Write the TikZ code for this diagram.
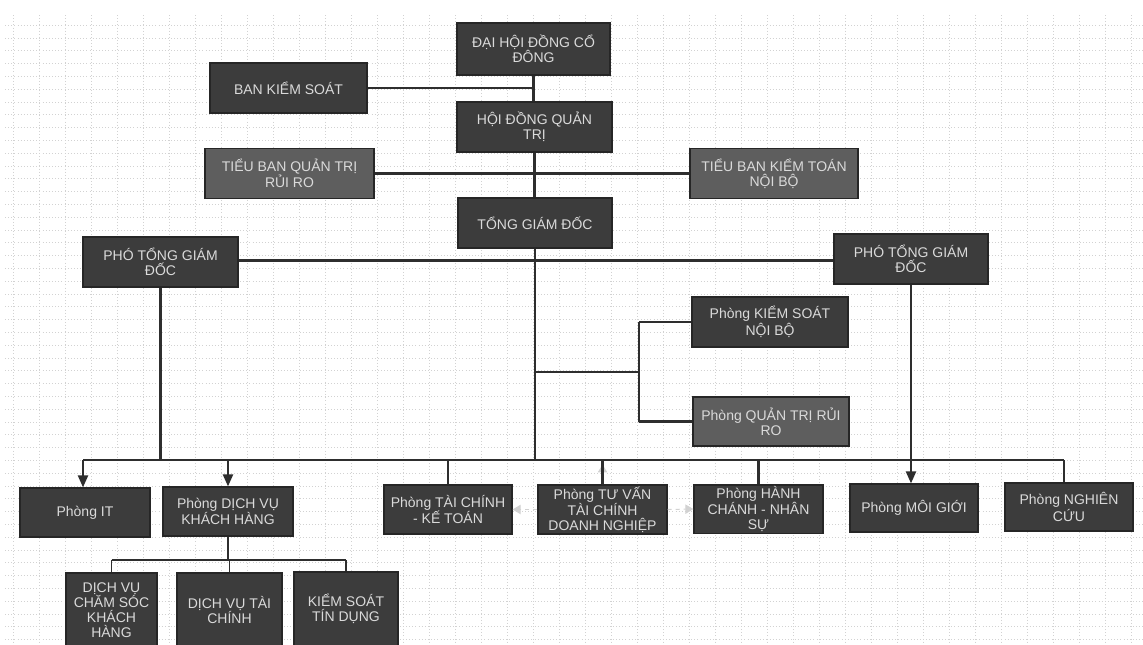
\documentclass[tikz,border=0pt]{standalone}
\usepackage{fontspec}
\setmainfont{Liberation Sans}
\usetikzlibrary{arrows.meta}
\definecolor{boxdark}{HTML}{3C3C3C}
\definecolor{boxlight}{HTML}{5E5E5E}
\definecolor{boxtext}{HTML}{DADADA}
\definecolor{linecol}{HTML}{2E2E2E}
\definecolor{gridcol}{HTML}{D2D2D2}
\begin{document}
\begin{tikzpicture}[x=0.75pt,y=-0.75pt,
  box/.style={draw=black!85, line width=0.9pt, fill=boxdark, text=boxtext,
    font=\fontsize{10.5}{11.1}\selectfont, align=center, inner sep=1pt},
  lbox/.style={box, fill=boxlight},
  sz/.style 2 args={minimum width=#1*0.75pt, minimum height=#2*0.75pt},
  conn/.style={draw=linecol, line width=1.6pt},
  thinconn/.style={draw=linecol, line width=1.2pt},
  arr/.style={conn, -{Triangle[length=9pt,width=7.5pt]}},
  ghost/.style={draw=gray!35, line width=0.8pt, dashed, -{Triangle[length=6pt,width=7pt]}},
  gridline/.style={draw=gridcol, line width=0.35pt, dotted}]
\useasboundingbox (0,0) rectangle (1143,644);
\clip (0,0) rectangle (1143,644);
\fill[white] (0,0) rectangle (1143,644);
% grid paper
\foreach \x in {13,39,...,1143} \draw[gridline] (\x,15) -- (\x,644);
\foreach \y in {25,37.8,...,644} \draw[gridline] (5,\y) -- (1143,\y);

% nodes
\node[box, sz={153}{52}] (dhdcd) at (533.5,49) {ĐẠI HỘI ĐỒNG CỔ\\ĐÔNG};
\node[box, sz={157}{50}] (bks) at (288.5,88) {BAN KIỂM SOÁT};
\node[box, sz={155}{50}] (hdqt) at (534.5,127) {HỘI ĐỒNG QUẢN\\TRỊ};
\node[lbox, sz={169}{50}] (tbqt) at (289.5,173.5) {TIỂU BAN QUẢN TRỊ\\RỦI RO};
\node[lbox, sz={168}{50}] (tbkt) at (774,173.5) {TIỂU BAN KIỂM TOÁN\\NỘI BỘ};
\node[box, sz={154}{50}] (tgd) at (535,223) {TỔNG GIÁM ĐỐC};
\node[box, sz={155}{50}] (ptgdL) at (160.5,262) {PHÓ TỔNG GIÁM\\ĐỐC};
\node[box, sz={154}{50}] (ptgdR) at (911,259) {PHÓ TỔNG GIÁM\\ĐỐC};
\node[box, sz={156}{50}] (pksnb) at (770,322) {Phòng KIỂM SOÁT\\NỘI BỘ};
\node[lbox, sz={156}{49}] (pqtrr) at (771,421.5) {Phòng QUẢN TRỊ RỦI\\RO};

\node[box, sz={130}{49}] (pit) at (85,512.5) {Phòng IT};
\node[box, sz={130}{49}] (pdvkh) at (228,511.5) {Phòng DỊCH VỤ\\KHÁCH HÀNG};
\node[box, sz={128}{49}] (ptckt) at (448,509.5) {Phòng TÀI CHÍNH\\- KẾ TOÁN};
\node[box, sz={129}{49}] (ptvtc) at (602.5,509.5) {Phòng TƯ VẤN\\TÀI CHÍNH\\DOANH NGHIỆP};
\node[box, sz={129}{48}] (phcns) at (758.5,509) {Phòng HÀNH\\CHÁNH - NHÂN\\SỰ};
\node[box, sz={128}{48}] (pmg) at (914,508) {Phòng MÔI GIỚI};
\node[box, sz={128}{48}] (pnc) at (1069,507) {Phòng NGHIÊN\\CỨU};

\node[box, sz={91}{74}] (dvcs) at (111.5,610) {DỊCH VỤ\\CHĂM SÓC\\KHÁCH\\HÀNG};
\node[box, sz={105}{74}] (dvtc) at (229.5,610) {DỊCH VỤ TÀI\\CHÍNH};
\node[box, sz={104}{74}] (ksttd) at (346,609) {KIỂM SOÁT\\TÍN DỤNG};

% helper coordinates
\coordinate (busL) at (83,460);
\coordinate (busR) at (1064,460);
\coordinate (brX) at (639,372);
\coordinate (subY) at (228,560);
\coordinate (ptY) at (0,260.5);

% faint ghost arrows
\draw[ghost] (ptvtc.west) -- (ptckt.east);
\draw[ghost] (ptvtc.east) -- (phcns.west);
\draw[ghost, solid] (ptvtc.north) -- ++(0,-20);

% connectors
\draw[conn] (dhdcd.south) -- (dhdcd.south |- hdqt.north);
\draw[conn] (bks.east) -- (bks.east -| dhdcd.south);
\draw[conn] (hdqt.south) -- (hdqt.south |- tgd.north);
\draw[conn] (tbqt.east) -- (tbkt.west);
\draw[conn] (ptgdL.east |- ptY) -- (ptgdR.west |- ptY);
\draw[conn] (tgd.south) -- (tgd.south |- busL);
\draw[conn] (tgd.south |- brX) -- (brX);
\draw[conn] (brX |- pksnb.west) -- (brX |- pqtrr.west);
\draw[conn] (brX |- pksnb.west) -- (pksnb.west);
\draw[conn] (brX |- pqtrr.west) -- (pqtrr.west);
\draw[conn] (ptgdL.south) -- (ptgdL.south |- busL);
\draw[conn] (busL) -- (busR);
\draw[arr] (busL) -- (busL |- pit.north);
\draw[arr] (pdvkh.north |- busL) -- (pdvkh.north);
\draw[conn] (ptckt.north |- busL) -- (ptckt.north);
\draw[conn] (ptvtc.north |- busL) -- (ptvtc.north);
\draw[conn] (phcns.north |- busL) -- (phcns.north);
\draw[conn] (busR) -- (busR |- pnc.north);
\draw[arr] (ptgdR.south) -- (ptgdR.south |- pmg.north);

\draw[thinconn] (pdvkh.south) -- (pdvkh.south |- subY);
\draw[thinconn] (dvcs.north |- subY) -- (ksttd.north |- subY);
\draw[thinconn] (dvcs.north |- subY) -- (dvcs.north);
\draw[thinconn] (dvtc.north |- subY) -- (dvtc.north);
\draw[thinconn] (ksttd.north |- subY) -- (ksttd.north);
\end{tikzpicture}
\end{document}
